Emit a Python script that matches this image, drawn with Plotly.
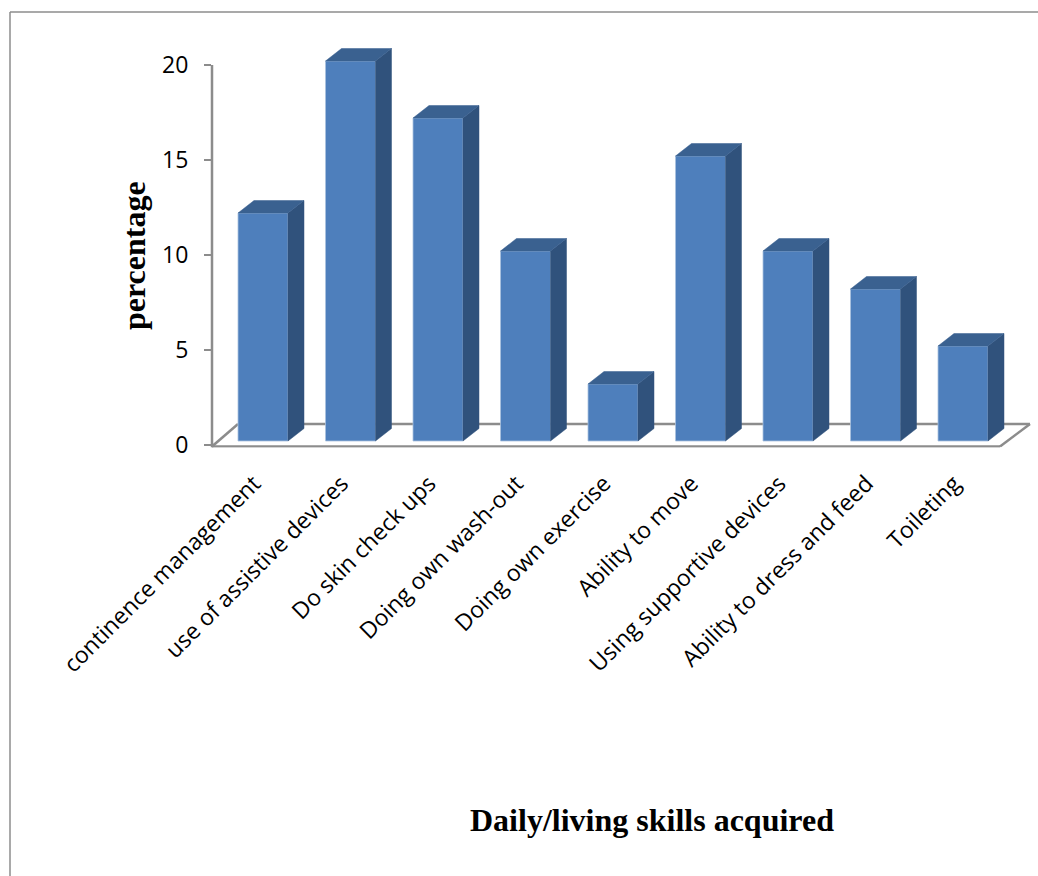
import plotly.graph_objects as go

categories = ["continence management", "use of assistive devices", "Do skin check ups",
              "Doing own wash-out", "Doing own exercise", "Ability to move",
              "Using supportive devices", "Ability to dress and feed", "Toileting"]
values = [12, 20, 17, 10, 3, 15, 10, 8, 5]
y_ticks = [0, 5, 10, 15, 20]
x_title = "Daily/living skills acquired"
y_title = "percentage"

W, H = 1038, 876
PX_X0, PX_STEP = 263.0, 87.5      # pixel of category 0, pixels per category
PX_Y0, PX_UNIT = 445.0, 19.0      # pixel of value 0, pixels per value unit
PLOT_L, PLOT_T, PLOT_B = 212.0, 30.0, 447.5
AXIS_TOP = 20                     # the drawn value axis stops here
BAR_W = 50 / PX_STEP
LIFT = 4 / PX_UNIT                # bars float just above the floor line
DX, DY = 16 / PX_STEP, 12.5 / PX_UNIT   # oblique depth of the 3-D look

FRONT, SIDE, TOP = "#4E7FBC", "#30527C", "#3A6190"
GREY = "#8C8C8C"
xs = list(range(len(categories)))


def sx(px):
    return (px - PX_X0) / PX_STEP


def sy(py):
    return (PX_Y0 - py) / PX_UNIT


fig = go.Figure()
fig.add_trace(go.Bar(x=xs, y=values, base=LIFT, width=BAR_W, marker_color=FRONT,
                     marker_line=dict(color="#A9C1DE", width=0.8),
                     cliponaxis=False, hoverinfo="skip", showlegend=False))

side_x, side_y, top_x, top_y = [], [], [], []
for i, v in zip(xs, values):
    r = i + BAR_W / 2
    l = i - BAR_W / 2
    b, t = LIFT, v + LIFT
    side_x += [r, r + DX, r + DX, r, r, None]
    side_y += [b, b + DY, t + DY, t, b, None]
    top_x += [l, l + DX, r + DX, r, l, None]
    top_y += [t, t + DY, t + DY, t, t, None]

for px_, py_, col in ((side_x, side_y, SIDE), (top_x, top_y, TOP)):
    fig.add_trace(go.Scatter(x=px_, y=py_, mode="lines", fill="toself", fillcolor=col,
                             line=dict(color=col, width=0.5), cliponaxis=False,
                             hoverinfo="skip", showlegend=False))

floor = [(212, 446.5), (1000, 446.5), (1030, 424), (238, 424), (212, 446.5)]
shapes = [dict(type="line", layer="below", xref="x", yref="y",
               x0=sx(a[0]), y0=sy(a[1]), x1=sx(b[0]), y1=sy(b[1]),
               line=dict(color=GREY, width=2.5))
          for a, b in zip(floor[:-1], floor[1:])]
# value axis line, drawn only up to the top tick
shapes.append(dict(type="line", layer="below", xref="paper", yref="y",
                   x0=PLOT_L / W, x1=PLOT_L / W, y0=sy(PLOT_B), y1=AXIS_TOP,
                   line=dict(color=GREY, width=2.5)))
# outer chart frame, open at the right and bottom edges of the page
shapes += [
    dict(type="line", xref="paper", yref="paper", x0=10 / W, x1=10 / W, y0=0, y1=1 - 12 / H,
         line=dict(color=GREY, width=1.5)),
    dict(type="line", xref="paper", yref="paper", x0=10 / W, x1=1, y0=1 - 12 / H, y1=1 - 12 / H,
         line=dict(color=GREY, width=1.5)),
]

fig.update_layout(
    width=W, height=H, margin=dict(l=0, r=0, t=0, b=0), autosize=False,
    paper_bgcolor="white", plot_bgcolor="rgba(0,0,0,0)", showlegend=False,
    font=dict(family="Open Sans", color="black"),
    shapes=shapes,
    xaxis=dict(domain=[PLOT_L / W, 1], range=[sx(PLOT_L), sx(W)], tickmode="array",
               tickvals=xs, ticktext=categories, tickangle=-45, showgrid=False, automargin=False,
               zeroline=False, showline=False, ticks="", ticklabelstandoff=17,
               ticklabelshift=-9,
               tickfont=dict(family="Open Sans", size=23, color="black")),
    yaxis=dict(domain=[1 - PLOT_B / H, 1 - PLOT_T / H], range=[sy(PLOT_B), sy(PLOT_T)],
               automargin=False, tickmode="array", tickvals=y_ticks, showgrid=False,
               zeroline=False, showline=False, ticks="outside", ticklen=7,
               tickwidth=1.5, tickcolor=GREY, ticklabelstandoff=11,
               tickfont=dict(family="Open Sans", size=23, color="black")),
    annotations=[
        dict(text=f"<b>{x_title}</b>", xref="paper", yref="paper", x=651.5 / W, y=1 - 820 / H,
             showarrow=False, xanchor="center", yanchor="middle",
             font=dict(family="Liberation Serif", size=32, color="black")),
        dict(text=f"<b>{y_title}</b>", xref="paper", yref="paper", x=134 / W, y=1 - 256 / H,
             showarrow=False, textangle=-90, xanchor="center", yanchor="middle",
             font=dict(family="Liberation Serif", size=32, color="black")),
    ],
)

fig.write_html("out.html", config={"displayModeBar": False},
               post_script="document.body.style.margin='0';")
